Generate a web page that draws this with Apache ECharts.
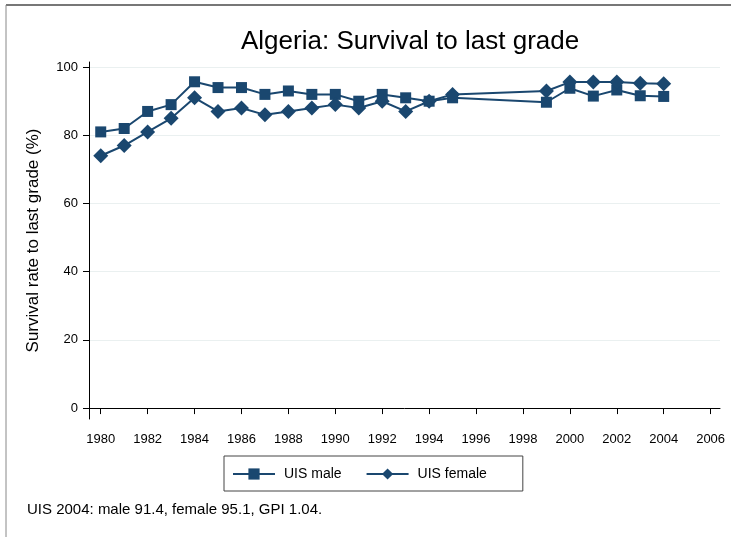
<!DOCTYPE html>
<html><head><meta charset="utf-8">
<script src="https://cdn.jsdelivr.net/npm/echarts@6/dist/echarts.min.js"></script>
<style>html,body{margin:0;padding:0;background:#fff}#c{width:731px;height:537px}</style>
</head><body><div id="c"></div>
<script>
const years = [1980,1981,1982,1983,1984,1985,1986,1987,1988,1989,1990,1991,1992,1993,1994,1995,1999,2000,2001,2002,2003,2004];
const maleValues = [81,82,87,89,95.7,94,94,92,93,92,92,90,92,91,90,91,89.7,93.8,91.5,93.3,91.6,91.4];
const femaleValues = [74,77,81,85,91,87,88,86,87,88,89,88,90,87,90,92,93,95.6,95.6,95.6,95.3,95.1];
const xTicks = [1980,1982,1984,1986,1988,1990,1992,1994,1996,1998,2000,2002,2004,2006];
const yTicks = [0,20,40,60,80,100];
const titleText = 'Algeria: Survival to last grade';
const yName = 'Survival rate to last grade (%)';
const noteText = 'UIS 2004: male 91.4, female 95.1, GPI 1.04.';

const color = '#1a476f';
const font = 'Liberation Sans, Arial, sans-serif';
const chart = echarts.init(document.getElementById('c'));
chart.setOption({
  animation: false,
  backgroundColor: '#fff',
  title: {text: titleText, left: 236, top: 24, textStyle: {fontFamily: font, fontSize: 26, fontWeight: 'normal', color: '#000'}},
  grid: {left: 89, right: 11, top: 62, bottom: 118},
  xAxis: {
    type: 'value', min: 1979.5, max: 2006.4,
    axisLine: {show: true, lineStyle: {color: '#000'}},
    axisTick: {show: true, length: 6, lineStyle: {color: '#000'}, customValues: xTicks},
    axisLabel: {customValues: xTicks, formatter: v => String(v), color: '#000', fontFamily: font, fontSize: 13, margin: 14},
    splitLine: {show: false}
  },
  yAxis: {
    type: 'value', min: -3.2, max: 101.5,
    name: yName, nameLocation: 'middle', nameGap: 47,
    nameTextStyle: {fontFamily: font, fontSize: 17, color: '#000'},
    axisLine: {show: true, lineStyle: {color: '#000'}},
    axisTick: {show: true, length: 6, lineStyle: {color: '#000'}, customValues: yTicks},
    axisLabel: {customValues: yTicks, formatter: v => String(v), color: '#000', fontFamily: font, fontSize: 13, margin: 11},
    splitLine: {show: true, lineStyle: {color: '#eaf0f0', width: 1.2}}
  },
  legend: {
    top: 456, left: 224, itemWidth: 42, itemHeight: 14, itemGap: 24,
    padding: [11, 36, 10, 8],
    borderColor: '#444', borderWidth: 1,
    textStyle: {fontFamily: font, fontSize: 14, color: '#000', padding: [0, 0, 0, 4]},
    data: ['UIS male', 'UIS female']
  },
  series: [
    {name: 'UIS male', type: 'line', data: years.map((y,i)=>[y, maleValues[i]]),
     symbol: 'rect', symbolSize: 11, color: color, lineStyle: {width: 2, color: color}, itemStyle: {color: color}},
    {name: 'UIS female', type: 'line', data: years.map((y,i)=>[y, femaleValues[i]]),
     symbol: 'diamond', symbolSize: 15, color: color, lineStyle: {width: 2, color: color}, itemStyle: {color: color}}
  ],
  graphic: [
    {type: 'text', left: 27, top: 502, style: {text: noteText, fontFamily: font, fontSize: 15, fill: '#000'}},
    {type: 'line', shape: {x1: 6, y1: 5, x2: 731, y2: 5}, style: {stroke: '#777', lineWidth: 2}},
    {type: 'line', shape: {x1: 6, y1: 5, x2: 6, y2: 537}, style: {stroke: '#888', lineWidth: 1}}
  ]
});
</script></body></html>
